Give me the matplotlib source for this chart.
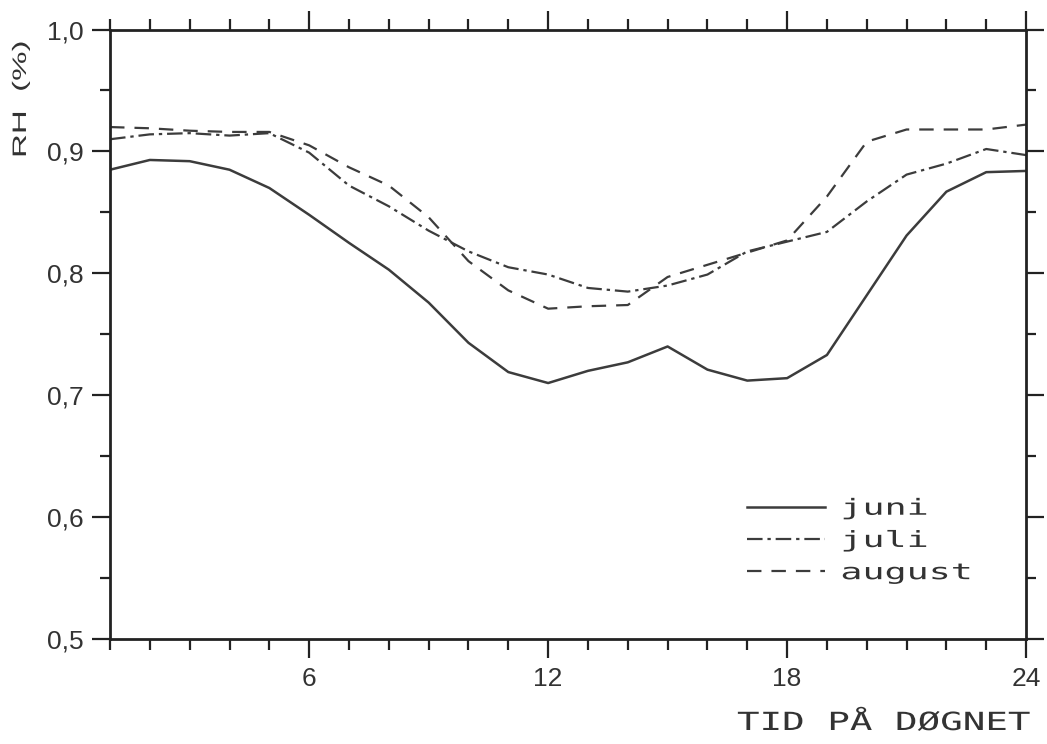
import matplotlib
matplotlib.use("Agg")
import matplotlib.pyplot as plt
from matplotlib.ticker import MultipleLocator, FuncFormatter
from matplotlib.patheffects import AbstractPathEffect
from matplotlib.transforms import Affine2D

hours = list(range(1, 25))
juni = [0.885, 0.893, 0.892, 0.885, 0.870, 0.848, 0.825, 0.803, 0.776, 0.743,
        0.719, 0.710, 0.720, 0.727, 0.740, 0.721, 0.712, 0.714, 0.733, 0.782,
        0.831, 0.867, 0.883, 0.884]
juli = [0.910, 0.914, 0.915, 0.913, 0.915, 0.899, 0.872, 0.855, 0.835, 0.818,
        0.805, 0.799, 0.788, 0.785, 0.790, 0.799, 0.818, 0.826, 0.834, 0.859,
        0.881, 0.890, 0.902, 0.897]
august = [0.920, 0.919, 0.917, 0.916, 0.916, 0.905, 0.887, 0.872, 0.846, 0.810,
          0.786, 0.771, 0.773, 0.774, 0.797, 0.807, 0.817, 0.827, 0.863, 0.908,
          0.918, 0.918, 0.918, 0.922]
series_labels = ["juni", "juli", "august"]
xticks_major = [6, 12, 18, 24]
yticks_major = [0.5, 0.6, 0.7, 0.8, 0.9, 1.0]


class Stretch(AbstractPathEffect):
    """Widen glyphs along the text baseline (plotter-style wide lettering)."""
    def __init__(self, sx):
        super().__init__()
        self.sx = sx

    def draw_path(self, renderer, gc, tpath, affine, rgbFace=None):
        renderer.draw_path(gc, tpath, Affine2D().scale(self.sx, 1.0) + affine, rgbFace)


col = "#3c3c3c"
txtcol = "#333333"
fig = plt.figure(figsize=(10.47, 7.44), dpi=100)
ax = fig.add_axes([0.1051, 0.1411, 0.8749, 0.8192])

ax.plot(hours, juni, color=col, lw=1.8, linestyle="-", label=series_labels[0])
ax.plot(hours, juli, color=col, lw=1.6, dashes=(7, 2.2, 1.5, 2.2), label=series_labels[1])
ax.plot(hours, august, color=col, lw=1.6, dashes=(6.5, 4.5), label=series_labels[2])

ax.set_xlim(1, 24)
ax.set_ylim(0.5, 1.0)
ax.xaxis.set_major_locator(plt.FixedLocator(xticks_major))
ax.xaxis.set_minor_locator(MultipleLocator(1))
ax.yaxis.set_major_locator(plt.FixedLocator(yticks_major))
ax.yaxis.set_minor_locator(MultipleLocator(0.05))
ax.yaxis.set_major_formatter(FuncFormatter(lambda v, p: f"{v:.1f}".replace(".", ",")))
ax.xaxis.set_major_formatter(FuncFormatter(lambda v, p: f"{int(v)}"))

tickfont = "Liberation Sans"
ax.tick_params(axis="both", which="both", direction="out", color="#222222", width=1.6,
               top=True, right=True)
ax.tick_params(axis="x", which="major", length=14, pad=6, labelsize=19)
ax.tick_params(axis="x", which="minor", length=8)
ax.tick_params(axis="y", which="major", length=13, pad=6, labelsize=19)
ax.tick_params(axis="y", which="minor", length=7)
for lab in ax.get_xticklabels() + ax.get_yticklabels():
    lab.set_fontfamily(tickfont)
    lab.set_color(txtcol)
for s in ax.spines.values():
    s.set_linewidth(2.0)
    s.set_color("#222222")

ylab = fig.text(0.0205, 1 - 158 / 744, "RH  (%)", rotation=90, ha="center", va="bottom",
                fontsize=14, family=tickfont, color=txtcol)
ylab.set_path_effects([Stretch(1.7)])

xlab = fig.text(737 / 1047, 1 - 730 / 744, "TID PÅ DØGNET", ha="left", va="baseline",
                fontsize=18, family="DejaVu Sans Mono", color=txtcol)
xlab.set_path_effects([Stretch(1.5)])

leg = ax.legend(loc="center left", bbox_to_anchor=((747 - 110) / 916, (639 - 541) / 609),
                frameon=False, borderaxespad=0, borderpad=0,
                handlelength=3.5, handletextpad=0.7, labelspacing=0.55,
                prop={"family": "DejaVu Sans Mono", "size": 16})
for t in leg.get_texts():
    t.set_color(txtcol)
    t.set_path_effects([Stretch(1.65)])

fig.savefig("out.png", dpi=100, facecolor="white")
